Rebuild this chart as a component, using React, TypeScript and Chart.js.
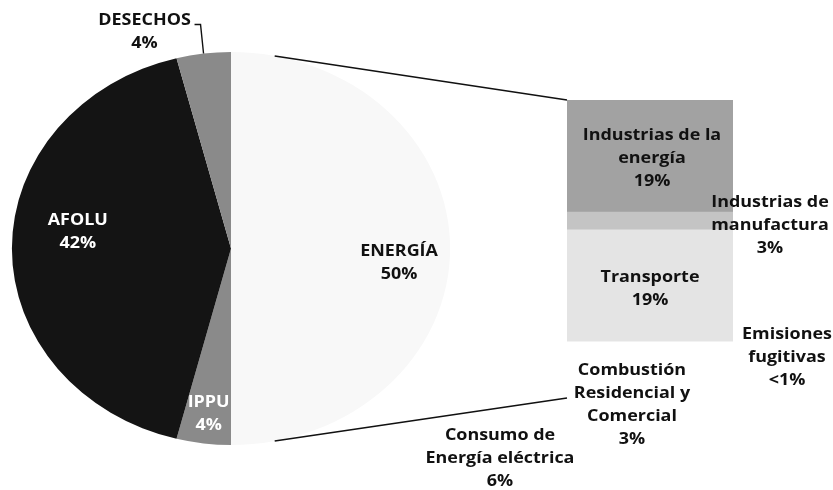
import React, { useEffect, useRef } from "react";
import { Chart, registerables } from "chart.js";
Chart.register(...registerables);

// ---- Pie data (clockwise from top) ----
const pieCategories = ["ENERGÍA", "IPPU", "AFOLU", "DESECHOS"];
const pieValues = [50, 4, 42, 4];
const pieValueLabels = ["50%", "4%", "42%", "4%"];
const pieColors = ["#f8f8f8", "#8a8a8a", "#141414", "#8a8a8a"];
const pieTextColors = ["#111111", "#ffffff", "#ffffff", "#111111"];

// ---- Bar (ENERGÍA breakdown), bottom to top ----
const barCategories = [
  ["Consumo de", "Energía eléctrica"],
  ["Combustión", "Residencial y", "Comercial"],
  ["Emisiones", "fugitivas"],
  ["Transporte"],
  ["Industrias de", "manufactura"],
  ["Industrias de la", "energía"],
];
const barValues = [6, 3, 0.5, 19, 3, 19];
const barValueLabels = ["6%", "3%", "<1%", "19%", "3%", "19%"];
const barColors = ["#ffffff", "#ffffff", "#ffffff", "#e4e4e4", "#c4c4c4", "#a2a2a2"];

// ---- style constants ----
const FONT = "bold 16px 'Open Sans', 'Liberation Sans', sans-serif";
const LINE_H = 23;
const SX = 1.115; // horizontal stretch of the pie
const TX = 1.12; // horizontal stretch of the text
// label placement for pie: radial fraction + offsets
const piePlacement = [
  { f: 0.767, dx: 0, dy: 14 },
  { f: 0.85, dx: 1, dy: 0 },
  { f: 0.69, dx: -2, dy: -17 },
  { f: 1.0, dx: -59, dy: -22 },
];
// label placement for bar segments
const barPlacement = [
  { anchor: "left", dx: -67, dy: 78 },
  { anchor: "center", dx: -18, dy: 51 },
  { anchor: "right", dx: 54, dy: 14 },
  { anchor: "center", dx: 0, dy: 3 },
  { anchor: "right", dx: 37, dy: 4 },
  { anchor: "center", dx: 2, dy: 2 },
];

function drawBlock(ctx: CanvasRenderingContext2D, lines: string[], cx: number, cy: number, color: string) {
  ctx.save();
  ctx.font = FONT;
  ctx.fillStyle = color;
  ctx.textAlign = "center";
  ctx.textBaseline = "middle";
  ctx.translate(cx, 0);
  ctx.scale(TX, 1);
  const top = cy - ((lines.length - 1) * LINE_H) / 2;
  lines.forEach((l, i) => ctx.fillText(l, 0, top + i * LINE_H));
  ctx.restore();
}

export default function App() {
  const barRef = useRef<HTMLCanvasElement>(null);
  const pieRef = useRef<HTMLCanvasElement>(null);

  useEffect(() => {
    const total = barValues.reduce((a, b) => a + b, 0);

    const barLabelPlugin = {
      id: "barLabels",
      afterDatasetsDraw(chart: any) {
        const ctx = chart.ctx;
        barValues.forEach((_, i) => {
          const el: any = chart.getDatasetMeta(i).data[0];
          const segC = (el.y + el.base) / 2;
          const left = el.x - el.width / 2;
          const right = el.x + el.width / 2;
          const p = barPlacement[i];
          const ax = p.anchor === "left" ? left : p.anchor === "right" ? right : el.x;
          drawBlock(ctx, [...barCategories[i], barValueLabels[i]], ax + p.dx, segC + p.dy, "#111111");
        });
      },
    };

    const bar = new Chart(barRef.current!, {
      type: "bar",
      data: {
        labels: [""],
        datasets: barValues.map((v, i) => ({
          label: barCategories[i].join(" "),
          data: [v],
          backgroundColor: barColors[i],
          borderWidth: 0,
          barPercentage: 1,
          categoryPercentage: 1,
        })),
      },
      options: {
        responsive: false,
        animation: false,
        layout: { padding: { left: 567, right: 100, top: 100, bottom: 92 } },
        plugins: { legend: { display: false }, tooltip: { enabled: false } },
        scales: {
          x: { display: false, stacked: true },
          y: { display: false, stacked: true, min: 0, max: total },
        },
      },
      plugins: [barLabelPlugin],
    });

    const stretchPlugin = {
      id: "stretch",
      beforeDatasetsDraw(chart: any) {
        const el: any = chart.getDatasetMeta(0).data[0];
        const ctx = chart.ctx;
        ctx.save();
        ctx.translate(el.x, 0);
        ctx.scale(SX, 1);
        ctx.translate(-el.x, 0);
      },
      afterDatasetsDraw(chart: any) {
        const ctx = chart.ctx;
        ctx.restore();
        const meta = chart.getDatasetMeta(0);
        const el0: any = meta.data[0];
        const cx = el0.x, cy = el0.y, r = el0.outerRadius;
        const pt = (a: number, f: number) => ({ x: cx + Math.cos(a) * r * f * SX, y: cy + Math.sin(a) * r * f });

        // connector lines to the bar
        const topEl: any = bar.getDatasetMeta(barValues.length - 1).data[0];
        const botEl: any = bar.getDatasetMeta(0).data[0];
        const off = (11.5 * Math.PI) / 180;
        const pTop = pt(-Math.PI / 2 + off, 1);
        const pBot = pt(Math.PI / 2 - off, 1);
        ctx.save();
        ctx.strokeStyle = "#111111";
        ctx.lineWidth = 1.6;
        ctx.beginPath();
        ctx.moveTo(pTop.x, pTop.y);
        ctx.lineTo(topEl.x - topEl.width / 2, topEl.y);
        ctx.moveTo(pBot.x, pBot.y);
        ctx.lineTo(botEl.x - botEl.width / 2, botEl.base);
        ctx.stroke();
        ctx.restore();

        meta.data.forEach((el: any, i: number) => {
          const mid = (el.startAngle + el.endAngle) / 2;
          const p = piePlacement[i];
          const q = pt(mid, p.f);
          if (i === 3) {
            ctx.save();
            ctx.strokeStyle = "#111111";
            ctx.lineWidth = 1.4;
            ctx.beginPath();
            ctx.moveTo(q.x, q.y);
            ctx.lineTo(q.x - 3, q.y - 29);
            ctx.lineTo(q.x - 9, q.y - 29);
            ctx.stroke();
            ctx.restore();
          }
          drawBlock(ctx, [pieCategories[i], pieValueLabels[i]], q.x + p.dx, q.y + p.dy, pieTextColors[i]);
        });
      },
    };

    const pie = new Chart(pieRef.current!, {
      type: "pie",
      data: {
        labels: pieCategories,
        datasets: [
          {
            data: pieValues,
            backgroundColor: pieColors,
            borderWidth: 0,
          },
        ],
      },
      options: {
        responsive: false,
        animation: false,
        layout: { padding: { left: 34.5, right: 405.5, top: 52, bottom: 45 } },
        plugins: { legend: { display: false }, tooltip: { enabled: false } },
      },
      plugins: [stretchPlugin],
    });

    return () => {
      pie.destroy();
      bar.destroy();
    };
  }, []);

  return (
    <div style={{ position: "fixed", left: 0, top: 0, width: 833, height: 490, background: "#ffffff" }}>
      <canvas ref={barRef} width={833} height={490} style={{ position: "absolute", left: 0, top: 0 }} />
      <canvas ref={pieRef} width={833} height={490} style={{ position: "absolute", left: 0, top: 0 }} />
    </div>
  );
}
